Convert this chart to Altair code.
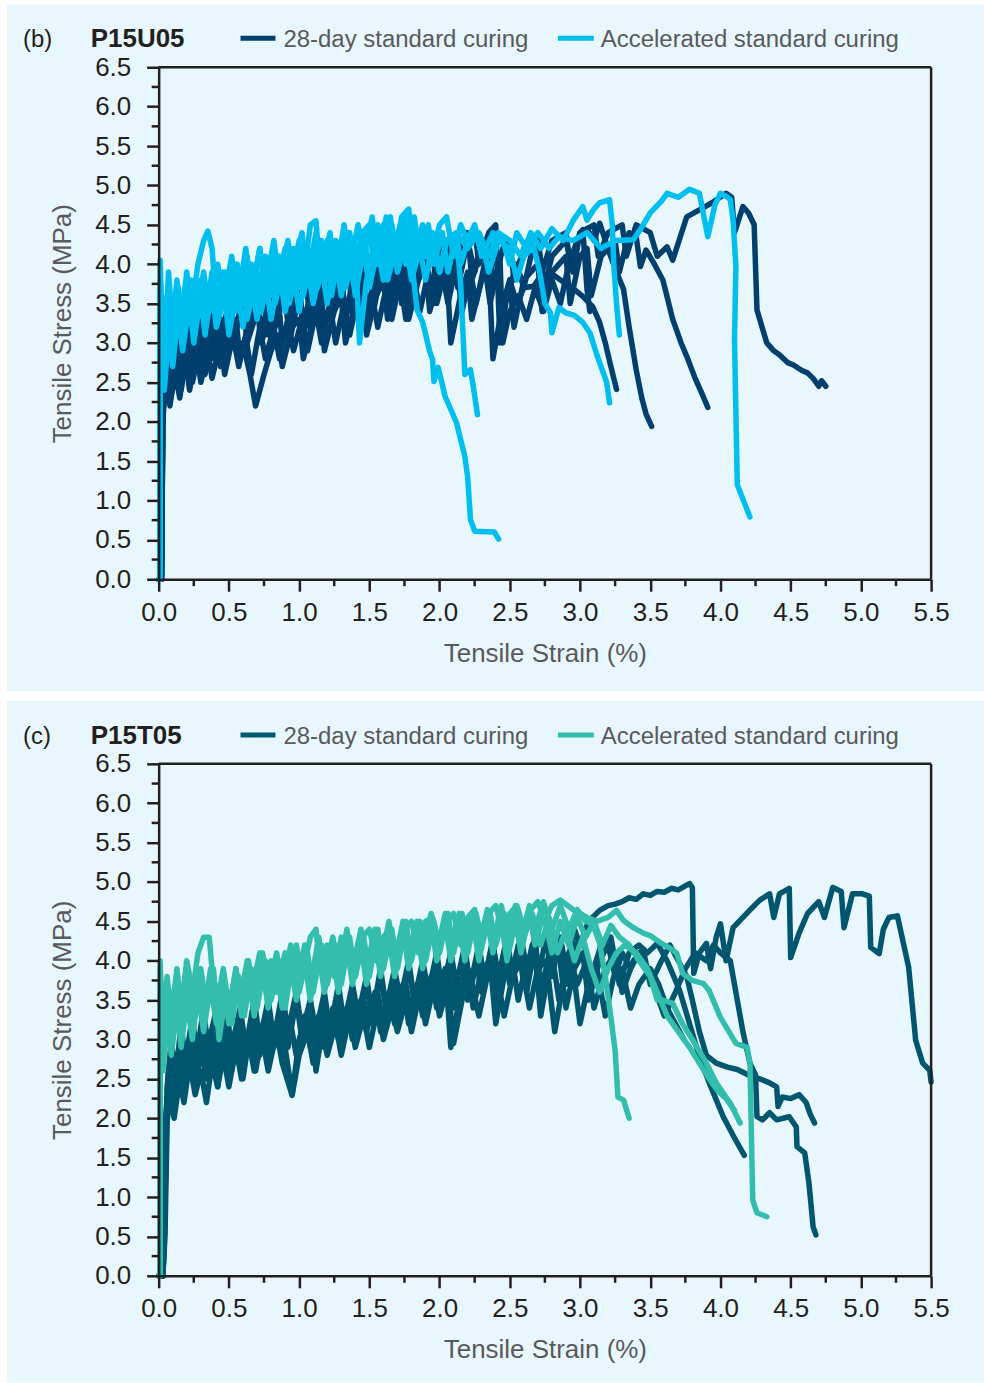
import altair as alt
import pandas as pd

# ---------------- data (strain %, stress MPa) ----------------
# Panel (b) P15U05 - 28-day standard curing
B28_1 = [(0,0),(0.02,0),(0.03,2.4),(0.06,2.9),(0.08,2.3),(0.12,2.8),(0.15,2.5),(0.2,3.0),(0.23,2.6),(0.28,3.1),(0.3,2.7),(0.36,3.2),(0.39,2.8),(0.45,3.3),(0.48,2.9),(0.55,3.3),(0.58,2.8),(0.65,3.3),(0.7,3.5),(0.73,3.0),(0.8,3.4),(0.85,3.6),(0.88,3.0),(0.95,3.5),(1.0,3.7),(1.03,3.1),(1.1,3.6),(1.15,3.8),(1.18,3.2),(1.25,3.7),(1.3,3.9),(1.33,3.3),(1.4,3.8),(1.45,4.0),(1.48,3.4),(1.55,3.9),(1.6,4.1),(1.63,3.5),(1.7,4.0),(1.75,4.1),(1.78,3.6),(1.85,4.1),(1.9,4.2),(1.93,3.6),(2.0,4.1),(2.05,4.3),(2.08,3.7),(2.15,4.2),(2.2,4.4),(2.23,3.8),(2.3,4.2),(2.35,4.3),(2.38,3.7),(2.45,4.2),(2.5,4.3),(2.53,3.8),(2.6,4.2),(2.7,4.35),(2.73,3.9),(2.8,4.3),(2.9,4.4),(2.93,4.0),(3.0,4.4),(3.1,4.5),(3.13,4.1),(3.2,4.4),(3.3,4.5),(3.33,4.1),(3.4,4.5),(3.5,4.4),(3.55,4.1),(3.62,4.22),(3.66,4.05),(3.76,4.6),(3.85,4.69),(3.94,4.78),(4.04,4.9),(4.08,4.85),(4.1,4.4),(4.16,4.73),(4.2,4.65),(4.24,4.5),(4.26,3.42),(4.33,3.0),(4.38,2.9),(4.42,2.85),(4.48,2.75),(4.52,2.72),(4.58,2.65),(4.62,2.62),(4.66,2.55),(4.7,2.45),(4.72,2.52),(4.75,2.45)]
B28_2 = [(0,0),(0.02,0),(0.03,2.0),(0.05,2.6),(0.08,2.2),(0.12,2.7),(0.16,2.4),(0.2,2.9),(0.24,2.5),(0.3,3.0),(0.33,2.6),(0.4,3.1),(0.44,2.7),(0.5,3.1),(0.55,2.9),(0.6,3.0),(0.65,2.6),(0.69,2.2),(0.75,2.6),(0.8,2.9),(0.85,3.1),(0.88,2.7),(0.95,3.2),(1.0,3.3),(1.03,2.8),(1.1,3.3),(1.15,3.5),(1.18,2.9),(1.25,3.4),(1.3,3.6),(1.33,3.0),(1.4,3.5),(1.45,3.7),(1.48,3.1),(1.55,3.6),(1.6,3.8),(1.63,3.3),(1.7,3.7),(1.75,3.9),(1.78,3.3),(1.85,3.8),(1.9,4.0),(1.93,3.4),(2.0,3.9),(2.05,4.0),(2.08,3.0),(2.15,3.6),(2.2,3.9),(2.23,3.3),(2.3,3.8),(2.35,4.0),(2.38,2.8),(2.45,3.5),(2.5,3.8),(2.53,3.2),(2.6,3.8),(2.7,4.0),(2.73,3.4),(2.8,3.9),(2.9,4.1),(2.93,3.5),(3.0,4.1),(3.05,4.2),(3.08,3.6),(3.15,4.1),(3.25,4.3),(3.28,3.9),(3.35,4.4),(3.4,4.35),(3.43,3.97),(3.47,4.18),(3.53,4.0),(3.59,3.8),(3.66,3.3),(3.72,3.0),(3.76,2.83),(3.82,2.55),(3.87,2.35),(3.91,2.18)]
B28_3 = [(0,0),(0.02,0),(0.03,2.3),(0.06,2.8),(0.09,2.4),(0.14,3.0),(0.17,2.6),(0.22,3.1),(0.25,2.7),(0.3,3.2),(0.34,2.8),(0.4,3.3),(0.43,2.8),(0.5,3.4),(0.53,3.0),(0.6,3.5),(0.63,3.0),(0.7,3.4),(0.75,3.6),(0.78,3.1),(0.85,3.5),(0.9,3.7),(0.93,3.0),(1.0,3.6),(1.05,3.8),(1.08,3.2),(1.15,3.7),(1.2,3.9),(1.23,3.3),(1.3,3.8),(1.35,4.0),(1.38,3.4),(1.45,3.9),(1.5,4.1),(1.53,3.6),(1.6,4.0),(1.65,4.2),(1.68,3.6),(1.75,4.1),(1.8,4.2),(1.83,3.8),(1.9,4.2),(1.95,4.3),(1.98,3.5),(2.05,4.0),(2.1,4.3),(2.13,3.7),(2.2,4.3),(2.25,4.45),(2.28,4.0),(2.35,4.4),(2.4,4.5),(2.43,3.0),(2.48,3.6),(2.55,4.0),(2.6,3.7),(2.65,4.1),(2.7,4.2),(2.73,3.6),(2.8,4.1),(2.9,4.3),(2.95,3.9),(3.0,4.4),(3.05,4.45),(3.1,4.3),(3.14,4.52),(3.21,4.14),(3.26,3.9),(3.31,3.68),(3.35,3.2),(3.4,2.66),(3.44,2.3),(3.47,2.1),(3.51,1.94)]
B28_4 = [(0,0),(0.02,0),(0.03,2.6),(0.06,3.1),(0.09,2.7),(0.13,3.2),(0.16,2.8),(0.21,3.3),(0.24,2.9),(0.3,3.4),(0.33,2.9),(0.4,3.5),(0.43,3.0),(0.5,3.5),(0.53,3.0),(0.6,3.6),(0.63,3.1),(0.7,3.6),(0.73,3.1),(0.8,3.7),(0.83,3.2),(0.9,3.7),(0.93,3.1),(1.0,3.8),(1.03,3.2),(1.1,3.8),(1.13,3.3),(1.2,3.9),(1.23,3.4),(1.3,3.9),(1.33,3.3),(1.4,4.0),(1.43,3.5),(1.5,4.0),(1.53,3.4),(1.6,4.1),(1.63,3.6),(1.7,4.1),(1.73,3.5),(1.8,4.2),(1.83,3.7),(1.9,4.1),(1.93,3.6),(2.0,4.2),(2.05,4.3),(2.08,3.8),(2.15,4.25),(2.2,4.3),(2.25,3.9),(2.3,4.3),(2.35,3.8),(2.4,4.2),(2.45,3.4),(2.5,3.8),(2.55,3.5),(2.6,3.7),(2.67,3.72),(2.72,3.85),(2.79,3.89),(2.86,3.8),(2.93,3.72),(3.02,3.59),(3.09,3.46),(3.14,3.26),(3.18,3.0),(3.22,2.7),(3.26,2.41)]
B28_5 = [(0,0),(0.02,0),(0.03,2.1),(0.05,2.5),(0.08,2.25),(0.12,2.6),(0.15,2.3),(0.19,2.8),(0.22,2.4),(0.27,2.9),(0.3,2.5),(0.35,2.9),(0.38,2.55),(0.44,3.0),(0.47,2.6),(0.53,3.1),(0.57,2.7),(0.62,3.1),(0.66,2.6),(0.72,3.2),(0.76,2.8),(0.82,3.2),(0.86,2.8),(0.92,3.3),(0.96,2.9),(1.02,3.3),(1.06,2.9),(1.12,3.4),(1.16,3.0),(1.22,3.5),(1.26,3.0),(1.32,3.5),(1.36,3.1),(1.42,3.6),(1.46,3.2),(1.52,3.6),(1.56,3.2),(1.62,3.7),(1.66,3.3),(1.72,3.8),(1.76,3.3),(1.82,3.8),(1.86,3.4),(1.92,3.9),(1.96,3.5),(2.02,3.9),(2.06,3.5),(2.12,4.0),(2.16,3.4),(2.22,3.9),(2.26,3.5),(2.32,4.0),(2.36,3.5),(2.43,4.1),(2.45,3.0),(2.5,3.4),(2.56,3.6),(2.62,3.3),(2.68,3.7),(2.74,3.4),(2.8,3.8),(2.86,3.5),(2.92,4.0),(2.98,4.3),(3.02,4.44),(3.05,3.68),(3.07,3.4)]

# Panel (b) P15U05 - Accelerated standard curing
BAC_1 = [(0,0),(0.01,0),(0.01,4.05),(0.03,3.0),(0.06,3.6),(0.09,3.1),(0.13,3.8),(0.16,3.3),(0.2,3.9),(0.23,3.4),(0.28,4.0),(0.32,4.3),(0.35,4.42),(0.38,4.2),(0.41,3.5),(0.46,3.9),(0.5,3.6),(0.55,4.0),(0.58,3.5),(0.63,4.1),(0.66,3.6),(0.72,4.2),(0.75,3.7),(0.8,4.1),(0.83,3.6),(0.9,4.2),(0.93,3.7),(1.0,4.3),(1.03,3.8),(1.08,4.5),(1.12,4.55),(1.15,3.9),(1.2,4.3),(1.25,3.8),(1.3,4.3),(1.35,4.4),(1.38,3.9),(1.45,4.4),(1.5,4.5),(1.53,4.0),(1.6,4.5),(1.65,4.6),(1.68,4.1),(1.73,4.6),(1.78,4.7),(1.82,4.1),(1.88,4.5),(1.93,4.0),(2.0,4.5),(2.05,4.6),(2.1,4.1),(2.15,4.5),(2.2,4.3),(2.25,4.5),(2.3,4.1),(2.38,4.4),(2.45,4.3),(2.5,4.0),(2.55,4.4),(2.62,4.2),(2.7,4.4),(2.78,4.2),(2.85,4.35),(2.95,4.3),(3.05,4.4),(3.15,4.2),(3.25,4.3),(3.38,4.31),(3.43,4.44),(3.5,4.65),(3.58,4.8),(3.62,4.9),(3.7,4.85),(3.78,4.95),(3.85,4.9),(3.91,4.35),(3.96,4.75),(4.0,4.9),(4.05,4.85),(4.07,4.82),(4.09,4.56),(4.11,3.97),(4.1,3.04),(4.12,1.2),(4.21,0.79)]
BAC_2 = [(0,0),(0.01,0),(0.01,3.4),(0.04,2.6),(0.07,3.3),(0.1,2.8),(0.14,3.5),(0.17,3.0),(0.22,3.6),(0.25,3.1),(0.3,3.7),(0.33,3.2),(0.38,3.8),(0.42,3.3),(0.48,3.8),(0.52,4.0),(0.55,3.4),(0.6,3.9),(0.63,3.3),(0.7,3.9),(0.73,3.4),(0.8,4.0),(0.83,3.5),(0.9,4.1),(0.93,3.5),(1.0,4.1),(1.03,3.6),(1.1,4.2),(1.13,3.7),(1.2,4.2),(1.23,3.6),(1.3,4.3),(1.33,3.7),(1.4,4.2),(1.43,3.0),(1.48,3.8),(1.55,4.3),(1.6,4.4),(1.63,3.8),(1.7,4.3),(1.75,4.4),(1.8,3.9),(1.85,4.3),(1.9,4.1),(1.95,4.4),(2.0,3.9),(2.05,4.3),(2.12,4.4),(2.15,4.0),(2.22,4.4),(2.3,4.3),(2.35,3.9),(2.42,4.3),(2.5,4.2),(2.55,3.8),(2.6,4.1),(2.67,4.22),(2.71,3.93),(2.75,3.5),(2.79,3.38),(2.8,3.13),(2.85,3.45),(2.9,3.38),(2.96,3.35),(3.02,3.26),(3.07,3.13),(3.12,2.85),(3.19,2.5),(3.21,2.24)]
BAC_3 = [(0,0),(0.01,0),(0.01,3.8),(0.04,2.8),(0.07,3.9),(0.1,3.2),(0.14,3.7),(0.18,3.1),(0.23,3.8),(0.27,3.3),(0.32,3.9),(0.36,3.4),(0.42,4.0),(0.46,3.5),(0.52,4.1),(0.56,3.5),(0.62,4.2),(0.66,3.6),(0.72,4.2),(0.76,3.7),(0.82,4.3),(0.86,3.8),(0.92,4.3),(0.96,3.9),(1.02,4.4),(1.06,3.8),(1.12,4.4),(1.16,3.9),(1.22,4.4),(1.26,3.8),(1.32,4.5),(1.36,4.0),(1.42,4.5),(1.46,4.1),(1.52,4.6),(1.56,4.0),(1.62,4.6),(1.66,4.1),(1.72,4.5),(1.76,4.0),(1.82,4.6),(1.86,4.1),(1.92,4.5),(1.96,4.0),(2.02,4.4),(2.06,3.9),(2.12,4.4),(2.2,4.2),(2.28,4.4),(2.35,4.1),(2.42,4.4),(2.5,4.3),(2.58,4.1),(2.65,4.4),(2.72,4.2),(2.8,4.45),(2.88,4.3),(2.95,4.55),(3.02,4.73),(3.05,4.56),(3.1,4.7),(3.14,4.78),(3.18,4.8),(3.21,4.82),(3.23,4.5),(3.24,4.0),(3.26,3.5),(3.28,3.1)]
BAC_4 = [(0,0),(0.01,0),(0.01,3.2),(0.04,2.4),(0.07,3.1),(0.1,2.7),(0.14,3.4),(0.17,2.9),(0.22,3.5),(0.25,3.0),(0.3,3.6),(0.33,3.1),(0.38,3.7),(0.41,3.2),(0.47,3.6),(0.5,3.1),(0.56,3.7),(0.6,3.2),(0.66,3.8),(0.7,3.3),(0.76,3.8),(0.8,3.3),(0.86,3.9),(0.9,3.4),(0.96,3.9),(1.0,3.4),(1.06,4.0),(1.1,3.5),(1.16,4.0),(1.2,3.5),(1.26,4.1),(1.3,3.6),(1.36,4.1),(1.4,3.6),(1.46,4.2),(1.5,3.7),(1.56,4.2),(1.6,3.8),(1.66,4.3),(1.7,3.9),(1.76,4.3),(1.8,3.8),(1.86,4.2),(1.9,3.8),(1.96,4.3),(2.0,3.9),(2.05,4.3),(2.1,4.35),(2.12,4.35),(2.15,3.76),(2.17,3.0),(2.18,2.6),(2.22,2.66),(2.24,2.45),(2.27,2.09)]
BAC_5 = [(0,0),(0.01,0),(0.01,3.6),(0.04,2.5),(0.07,3.4),(0.1,2.9),(0.14,3.6),(0.17,3.1),(0.22,3.7),(0.25,3.2),(0.3,3.8),(0.33,3.3),(0.38,3.9),(0.41,3.3),(0.47,3.9),(0.5,3.4),(0.56,4.0),(0.6,3.5),(0.66,4.0),(0.7,3.5),(0.76,4.1),(0.8,3.6),(0.86,4.1),(0.9,3.6),(0.96,4.2),(1.0,3.7),(1.06,4.2),(1.1,3.7),(1.16,4.3),(1.2,3.8),(1.26,4.3),(1.3,3.8),(1.36,4.4),(1.4,3.9),(1.46,4.4),(1.5,3.9),(1.56,4.5),(1.6,4.0),(1.66,4.5),(1.7,4.1),(1.75,4.6),(1.79,4.02),(1.81,3.89),(1.84,3.42),(1.88,3.26),(1.93,2.89),(1.95,2.79),(1.96,2.51),(1.99,2.69),(2.04,2.32),(2.12,1.99),(2.18,1.56),(2.2,1.3),(2.22,0.76),(2.25,0.61),(2.39,0.6),(2.42,0.51)]

# Panel (c) P15T05 - 28-day standard curing
C28_1 = [(0,0),(0.03,0),(0.035,0.5),(0.05,2.0),(0.07,2.6),(0.1,2.3),(0.14,2.8),(0.17,2.4),(0.22,2.9),(0.25,2.5),(0.3,3.0),(0.33,2.6),(0.38,3.0),(0.41,2.6),(0.47,3.1),(0.5,2.7),(0.56,3.1),(0.6,2.7),(0.66,3.2),(0.7,2.8),(0.76,3.2),(0.8,2.8),(0.86,3.3),(0.9,2.9),(0.95,2.3),(1.0,3.0),(1.06,3.3),(1.1,2.9),(1.16,3.4),(1.2,3.0),(1.26,3.4),(1.3,3.0),(1.36,3.5),(1.4,3.1),(1.46,3.5),(1.5,3.2),(1.56,3.6),(1.6,3.2),(1.66,3.7),(1.7,3.3),(1.76,3.7),(1.8,3.3),(1.86,3.8),(1.9,3.4),(1.96,3.9),(2.0,3.5),(2.06,3.9),(2.1,3.4),(2.16,4.0),(2.2,3.5),(2.26,4.0),(2.3,3.6),(2.36,4.1),(2.4,3.6),(2.46,4.1),(2.5,3.7),(2.56,4.2),(2.6,3.7),(2.66,4.2),(2.7,3.8),(2.76,4.3),(2.8,3.8),(2.86,4.3),(2.9,3.9),(2.96,4.4),(3.0,4.2),(3.06,4.5),(3.14,4.64),(3.2,4.7),(3.25,4.72),(3.3,4.75),(3.35,4.8),(3.4,4.78),(3.45,4.85),(3.5,4.83),(3.55,4.88),(3.6,4.87),(3.65,4.92),(3.7,4.9),(3.75,4.95),(3.78,4.98),(3.8,4.93),(3.81,3.84),(3.85,4.1),(3.9,4.22),(3.93,3.9),(3.97,4.3),(4.0,4.47),(4.04,4.0),(4.09,4.42),(4.16,4.55),(4.23,4.68),(4.28,4.77),(4.35,4.85),(4.38,4.55),(4.42,4.85),(4.49,4.92),(4.5,4.04),(4.56,4.35),(4.62,4.6),(4.7,4.75),(4.74,4.55),(4.8,4.93),(4.86,4.88),(4.88,4.42),(4.94,4.85),(5.01,4.85),(5.06,4.82),(5.07,4.17),(5.13,4.09),(5.16,4.4),(5.2,4.55),(5.26,4.57),(5.34,3.92),(5.39,2.99),(5.44,2.7),(5.49,2.61),(5.5,2.46)]
C28_2 = [(0,0),(0.03,0),(0.04,0.5),(0.06,2.2),(0.09,2.8),(0.12,2.4),(0.16,3.0),(0.19,2.5),(0.24,3.1),(0.27,2.6),(0.32,3.1),(0.35,2.6),(0.4,3.2),(0.43,2.7),(0.48,3.2),(0.52,2.6),(0.58,3.3),(0.62,2.8),(0.68,3.3),(0.72,2.8),(0.78,3.4),(0.82,2.9),(0.88,3.4),(0.92,2.9),(0.98,3.5),(1.02,3.0),(1.08,3.5),(1.12,3.1),(1.18,3.6),(1.22,3.1),(1.28,3.7),(1.32,3.2),(1.38,3.7),(1.42,3.3),(1.48,3.8),(1.52,3.3),(1.58,3.9),(1.62,3.4),(1.68,3.9),(1.72,3.5),(1.78,4.0),(1.82,3.5),(1.88,4.0),(1.92,3.6),(1.98,4.1),(2.02,3.6),(2.08,4.1),(2.12,3.7),(2.18,4.2),(2.22,3.6),(2.28,4.2),(2.32,3.7),(2.38,4.3),(2.42,3.5),(2.48,4.2),(2.52,3.8),(2.58,4.3),(2.62,3.6),(2.68,4.2),(2.72,3.7),(2.8,4.1),(2.85,3.5),(2.92,4.1),(2.98,3.7),(3.05,4.0),(3.1,3.4),(3.18,3.9),(3.25,4.1),(3.3,3.6),(3.38,4.0),(3.45,4.15),(3.5,3.7),(3.58,4.0),(3.64,4.2),(3.7,4.0),(3.76,3.8),(3.8,3.5),(3.85,3.1),(3.9,2.8),(3.97,2.7),(4.05,2.65),(4.12,2.62),(4.2,2.55),(4.28,2.5),(4.35,2.45),(4.4,2.4),(4.41,2.15),(4.44,2.27),(4.5,2.25),(4.56,2.3),(4.61,2.2),(4.64,2.05),(4.67,1.94)]
C28_3 = [(0,0),(0.03,0),(0.04,0.5),(0.05,2.0),(0.08,2.5),(0.11,2.2),(0.15,2.7),(0.18,2.3),(0.23,2.8),(0.26,2.4),(0.31,2.9),(0.34,2.5),(0.39,2.9),(0.42,2.4),(0.47,3.0),(0.5,2.6),(0.56,3.0),(0.6,2.5),(0.65,3.1),(0.69,2.6),(0.74,3.1),(0.78,2.7),(0.84,3.2),(0.88,2.8),(0.94,3.2),(0.98,2.8),(1.04,3.3),(1.08,2.9),(1.14,3.3),(1.18,2.9),(1.24,3.4),(1.28,3.0),(1.34,3.4),(1.38,3.0),(1.44,3.5),(1.48,3.1),(1.54,3.6),(1.58,3.1),(1.64,3.6),(1.68,3.2),(1.74,3.7),(1.78,3.2),(1.84,3.7),(1.88,3.3),(1.94,3.8),(1.98,3.4),(2.04,3.9),(2.08,2.9),(2.14,3.5),(2.2,3.9),(2.24,3.4),(2.3,3.9),(2.36,4.0),(2.4,3.2),(2.46,3.8),(2.52,4.0),(2.56,3.5),(2.62,4.0),(2.68,4.1),(2.72,3.3),(2.78,3.9),(2.85,4.1),(2.9,3.4),(2.96,3.9),(3.02,4.1),(3.06,3.5),(3.14,4.0),(3.2,4.2),(3.25,3.8),(3.3,4.1),(3.36,3.9),(3.42,4.1),(3.5,3.8),(3.56,3.5),(3.6,3.3),(3.68,3.6),(3.75,3.9),(3.82,4.1),(3.9,4.0),(3.95,4.2),(4.0,4.1),(4.07,4.0),(4.12,3.5),(4.16,3.1),(4.21,2.7),(4.25,2.55),(4.26,2.02),(4.3,1.98),(4.35,2.07),(4.4,1.98),(4.49,2.02),(4.54,1.89),(4.545,1.64),(4.6,1.56),(4.63,1.18),(4.66,0.62),(4.68,0.52)]
C28_4 = [(0,0),(0.03,0),(0.04,0.5),(0.06,2.4),(0.09,3.0),(0.12,2.5),(0.16,3.2),(0.19,2.7),(0.24,3.3),(0.27,2.8),(0.32,3.4),(0.35,2.9),(0.4,3.3),(0.43,2.8),(0.48,3.4),(0.52,2.9),(0.58,3.4),(0.62,2.9),(0.68,3.5),(0.72,3.0),(0.78,3.5),(0.82,3.0),(0.88,3.6),(0.92,3.1),(0.98,3.6),(1.02,3.1),(1.08,3.5),(1.12,2.6),(1.18,3.3),(1.22,3.0),(1.28,3.5),(1.32,3.1),(1.38,3.6),(1.42,3.2),(1.48,3.7),(1.52,3.3),(1.58,3.8),(1.62,3.4),(1.68,3.8),(1.72,3.4),(1.78,3.9),(1.82,3.5),(1.88,3.9),(1.92,3.5),(1.98,4.0),(2.02,3.6),(2.08,4.1),(2.12,3.6),(2.18,4.1),(2.22,3.7),(2.28,4.2),(2.32,3.7),(2.38,4.2),(2.42,3.8),(2.48,4.3),(2.52,3.8),(2.58,4.3),(2.62,3.9),(2.68,4.3),(2.72,3.5),(2.78,4.1),(2.85,4.3),(2.9,3.7),(2.96,4.2),(3.02,4.3),(3.08,3.8),(3.15,4.2),(3.22,4.3),(3.28,3.7),(3.35,4.1),(3.42,4.2),(3.48,4.1),(3.55,4.22),(3.62,4.0),(3.71,3.62),(3.78,3.2),(3.85,2.78),(3.92,2.45),(4.02,2.02),(4.1,1.75),(4.17,1.53)]
C28_5 = [(0,0),(0.03,0),(0.045,0.5),(0.06,1.95),(0.08,2.3),(0.11,2.0),(0.15,2.5),(0.18,2.2),(0.22,2.7),(0.26,2.3),(0.3,2.6),(0.34,2.2),(0.38,2.7),(0.42,2.4),(0.46,2.8),(0.5,2.4),(0.55,2.9),(0.59,2.5),(0.64,3.0),(0.68,2.6),(0.74,3.0),(0.78,2.6),(0.84,3.1),(0.88,2.7),(0.95,2.29),(1.0,2.8),(1.06,3.1),(1.1,2.7),(1.16,3.2),(1.2,2.8),(1.26,3.2),(1.3,2.8),(1.36,3.3),(1.4,2.9),(1.46,3.3),(1.5,2.9),(1.56,3.4),(1.6,3.0),(1.66,3.4),(1.7,3.1),(1.76,3.5),(1.8,3.1),(1.86,3.6),(1.9,3.2),(1.96,3.7),(2.0,3.3),(2.06,3.7),(2.1,2.95),(2.16,3.5),(2.22,3.8),(2.28,3.3),(2.34,3.8),(2.4,3.9),(2.46,3.3),(2.52,3.8),(2.58,4.0),(2.64,3.4),(2.7,3.9),(2.76,4.0),(2.82,3.1),(2.88,3.7),(2.95,3.9),(3.0,3.2),(3.06,3.7),(3.12,3.9),(3.18,3.3),(3.24,3.8),(3.3,3.9),(3.36,3.4),(3.42,3.7),(3.5,3.9),(3.56,3.7),(3.62,3.4),(3.68,3.2),(3.74,3.0)]

# Panel (c) P15T05 - Accelerated standard curing
CAC_1 = [(0,0),(0.01,0),(0.01,4.0),(0.03,3.1),(0.06,3.8),(0.09,3.3),(0.13,3.9),(0.16,3.4),(0.2,4.0),(0.24,3.6),(0.28,4.1),(0.32,4.3),(0.36,4.3),(0.38,3.9),(0.42,3.5),(0.46,3.9),(0.5,3.4),(0.55,3.9),(0.58,3.5),(0.63,4.0),(0.66,3.6),(0.72,4.1),(0.75,3.7),(0.8,4.0),(0.84,3.6),(0.9,4.1),(0.93,3.7),(0.98,4.2),(1.02,3.8),(1.08,4.3),(1.12,4.4),(1.15,3.9),(1.2,4.2),(1.25,3.8),(1.3,4.3),(1.35,4.1),(1.4,3.8),(1.45,4.3),(1.5,4.4),(1.55,4.0),(1.6,4.3),(1.65,4.4),(1.7,4.0),(1.75,4.4),(1.8,4.5),(1.85,4.1),(1.9,4.5),(1.95,4.55),(2.0,4.2),(2.05,4.5),(2.1,4.6),(2.15,4.2),(2.2,4.55),(2.25,4.65),(2.3,4.3),(2.35,4.6),(2.4,4.7),(2.45,4.35),(2.5,4.6),(2.55,4.7),(2.6,4.4),(2.65,4.65),(2.7,4.75),(2.75,4.5),(2.8,4.7),(2.86,4.77),(2.95,4.65),(3.0,4.6),(3.05,4.55),(3.12,4.5),(3.2,4.55),(3.26,4.64),(3.31,4.51),(3.38,4.42),(3.45,4.35),(3.5,4.32),(3.58,4.22),(3.65,4.15),(3.69,4.09),(3.73,3.84),(3.8,3.75),(3.88,3.71),(3.92,3.62),(3.96,3.45),(4.0,3.28),(4.06,3.1),(4.11,2.95),(4.19,2.9),(4.21,2.7),(4.23,0.96),(4.26,0.8),(4.33,0.75)]
CAC_2 = [(0,0),(0.01,0),(0.01,3.6),(0.03,2.9),(0.06,3.5),(0.09,3.0),(0.13,3.6),(0.16,3.1),(0.2,3.7),(0.24,3.2),(0.28,3.8),(0.32,3.3),(0.37,3.9),(0.41,3.3),(0.46,3.8),(0.5,3.3),(0.55,3.9),(0.59,3.4),(0.64,4.0),(0.68,3.5),(0.74,4.1),(0.78,3.6),(0.84,4.1),(0.88,3.6),(0.94,4.2),(0.98,3.7),(1.04,4.2),(1.08,3.7),(1.14,4.3),(1.18,3.8),(1.24,4.3),(1.28,3.8),(1.34,4.4),(1.38,3.9),(1.44,4.4),(1.48,3.9),(1.54,4.4),(1.58,4.0),(1.64,4.5),(1.68,4.0),(1.74,4.5),(1.78,4.1),(1.84,4.5),(1.88,4.1),(1.94,4.6),(1.98,4.1),(2.04,4.6),(2.08,4.2),(2.14,4.6),(2.18,4.1),(2.24,4.6),(2.28,4.2),(2.34,4.65),(2.38,4.2),(2.44,4.7),(2.48,4.3),(2.54,4.7),(2.58,4.3),(2.64,4.7),(2.68,4.4),(2.74,4.75),(2.8,4.4),(2.86,4.7),(2.92,4.4),(2.98,4.65),(3.04,4.5),(3.09,4.47),(3.14,4.22),(3.18,3.8),(3.22,3.28),(3.25,2.86),(3.27,2.27),(3.31,2.23),(3.35,2.0)]
CAC_3 = [(0,0),(0.01,0),(0.01,3.3),(0.03,2.6),(0.06,3.3),(0.09,2.8),(0.13,3.4),(0.16,2.9),(0.2,3.5),(0.24,3.0),(0.28,3.6),(0.32,3.1),(0.37,3.7),(0.41,3.2),(0.46,3.7),(0.5,3.2),(0.55,3.8),(0.59,3.3),(0.64,3.8),(0.68,3.3),(0.74,3.9),(0.78,3.4),(0.84,3.9),(0.88,3.4),(0.94,4.0),(0.98,3.5),(1.04,4.0),(1.08,3.5),(1.14,4.1),(1.18,3.6),(1.24,4.1),(1.28,3.6),(1.34,4.2),(1.38,3.7),(1.44,4.2),(1.48,3.7),(1.54,4.3),(1.58,3.8),(1.64,4.3),(1.68,3.8),(1.74,4.4),(1.78,3.9),(1.84,4.4),(1.88,3.9),(1.94,4.5),(1.98,4.0),(2.04,4.5),(2.08,4.0),(2.14,4.5),(2.18,4.0),(2.24,4.5),(2.28,4.0),(2.34,4.5),(2.38,4.1),(2.44,4.5),(2.48,4.0),(2.54,4.5),(2.58,4.1),(2.64,4.6),(2.68,4.2),(2.74,4.6),(2.8,4.1),(2.86,4.5),(2.92,4.2),(2.98,4.55),(3.04,4.3),(3.1,4.5),(3.16,4.2),(3.22,4.45),(3.28,4.3),(3.35,4.2),(3.42,4.0),(3.5,3.8),(3.55,3.5),(3.59,3.5),(3.66,3.46),(3.73,3.2),(3.8,3.0),(3.9,2.7),(3.97,2.45),(4.07,2.19),(4.14,1.94)]
CAC_4 = [(0,0),(0.01,0),(0.01,3.9),(0.03,3.0),(0.06,3.7),(0.09,3.2),(0.13,3.8),(0.17,3.3),(0.21,3.9),(0.25,3.3),(0.3,3.9),(0.34,3.4),(0.39,3.9),(0.43,3.0),(0.48,3.6),(0.52,3.2),(0.57,3.8),(0.61,3.3),(0.66,3.9),(0.7,3.4),(0.76,4.0),(0.8,3.5),(0.86,4.0),(0.9,3.4),(0.96,4.1),(1.0,3.6),(1.06,4.1),(1.1,3.6),(1.16,4.2),(1.2,3.7),(1.26,4.2),(1.3,3.7),(1.36,4.3),(1.4,3.8),(1.46,4.3),(1.5,3.8),(1.56,4.4),(1.6,3.9),(1.66,4.4),(1.7,3.9),(1.76,4.5),(1.8,4.0),(1.86,4.5),(1.9,4.0),(1.96,4.5),(2.0,4.1),(2.06,4.6),(2.1,4.1),(2.16,4.6),(2.2,4.1),(2.26,4.6),(2.3,4.2),(2.36,4.6),(2.4,4.2),(2.46,4.6),(2.5,4.2),(2.56,4.65),(2.6,4.3),(2.66,4.6),(2.72,4.2),(2.78,4.55),(2.84,4.1),(2.9,4.4),(2.96,4.0),(3.02,4.3),(3.08,3.9),(3.14,3.6),(3.2,3.9),(3.26,4.1),(3.32,4.2),(3.4,4.1),(3.48,3.9),(3.55,3.6),(3.62,3.3),(3.7,3.1),(3.78,2.9),(3.85,2.7),(3.92,2.5),(3.98,2.35),(4.04,2.25),(4.1,2.1)]

X_TICKS = [0.0, 0.5, 1.0, 1.5, 2.0, 2.5, 3.0, 3.5, 4.0, 4.5, 5.0, 5.5]
X_MINOR = [0.25, 0.75, 1.25, 1.75, 2.25, 2.75, 3.25, 3.75, 4.25, 4.75, 5.25]
Y_TICKS = [0.0, 0.5, 1.0, 1.5, 2.0, 2.5, 3.0, 3.5, 4.0, 4.5, 5.0, 5.5, 6.0, 6.5]
Y_MINOR = [0.25, 0.75, 1.25, 1.75, 2.25, 2.75, 3.25, 3.75, 4.25, 4.75, 5.25, 5.75, 6.25]

LEGEND = ["28-day standard curing", "Accelerated standard curing"]

PANELS = [
    {"tag": "(b)", "name": "P15U05", "dark": [B28_1, B28_2, B28_3, B28_4, B28_5],
     "light": [BAC_1, BAC_2, BAC_3, BAC_4, BAC_5],
     "c_dark": "#003F6E", "c_light": "#00BFEF", "bottom": 625},
    {"tag": "(c)", "name": "P15T05", "dark": [C28_1, C28_2, C28_3, C28_4, C28_5],
     "light": [CAC_1, CAC_2, CAC_3, CAC_4],
     "c_dark": "#00566E", "c_light": "#33BDAD", "bottom": 620},
]

W, H = 774, 513
BG = "#E8F6FD"
INK = "#231F20"
GREY = "#595A5C"
FONT = "Liberation Sans"
LW = 5.5


def curves_df(curves, prefix):
    rows = []
    for k, c in enumerate(curves):
        for i, (xv, yv) in enumerate(c):
            rows.append({"curve": f"{prefix}{k}", "i": i, "x": xv, "y": yv})
    return pd.DataFrame(rows)


x_enc = alt.X("x:Q", scale=alt.Scale(domain=[0, 5.5], nice=False, zero=False),
              axis=alt.Axis(values=X_TICKS, format=".1f", title="Tensile Strain (%)",
                            tickSize=12, tickWidth=2.5, tickColor=INK,
                            domainColor=INK, domainWidth=2.5, grid=False, labelFlush=False,
                            labelFont=FONT, labelFontSize=26, labelColor=INK, labelPadding=8,
                            titleFont=FONT, titleFontSize=26, titleFontWeight="normal",
                            titleColor=GREY, titlePadding=15, zindex=2))
y_enc = alt.Y("y:Q", scale=alt.Scale(domain=[0, 6.5], nice=False),
              axis=alt.Axis(values=Y_TICKS, format=".1f", title="Tensile Stress (MPa)",
                            tickSize=12, tickWidth=2.5, tickColor=INK,
                            domainColor=INK, domainWidth=2.5, grid=False, labelFlush=False,
                            labelFont=FONT, labelFontSize=26, labelColor=INK, labelPadding=16,
                            titleFont=FONT, titleFontSize=26, titleFontWeight="normal",
                            titleColor=GREY, titlePadding=19, zindex=2))

one = pd.DataFrame({"k": [0]})


def panel(p):
    bg = alt.Chart(one).mark_rect(color=BG).encode(
        x=alt.value(-152), x2=alt.value(827), y=alt.value(-63), y2=alt.value(p["bottom"]))
    dark = alt.Chart(curves_df(p["dark"], "d")).mark_line(
        color=p["c_dark"], strokeWidth=LW, strokeJoin="round", strokeCap="round").encode(
        x=x_enc, y=y_enc, detail="curve:N", order="i:Q")
    light = alt.Chart(curves_df(p["light"], "l")).mark_line(
        color=p["c_light"], strokeWidth=LW, strokeJoin="round", strokeCap="round").encode(
        x=x_enc, y=y_enc, detail="curve:N", order="i:Q")
    xmin = alt.Chart(pd.DataFrame({"x": X_MINOR})).mark_rule(color=INK, strokeWidth=2.5).encode(
        x=x_enc, y=alt.value(H), y2=alt.value(H + 7))
    ymin = alt.Chart(pd.DataFrame({"y": Y_MINOR})).mark_rule(color=INK, strokeWidth=2.5).encode(
        y=y_enc, x=alt.value(-7), x2=alt.value(0))
    top = alt.Chart(one).mark_rule(color=INK, strokeWidth=2.5).encode(
        x=alt.value(0), x2=alt.value(W), y=alt.value(0))
    right = alt.Chart(one).mark_rule(color=INK, strokeWidth=2.5).encode(
        x=alt.value(W), y=alt.value(0), y2=alt.value(H))
    tag = alt.Chart(pd.DataFrame({"t": [p["tag"]]})).mark_text(
        align="left", baseline="alphabetic", font=FONT, fontSize=24, color=INK).encode(
        x=alt.value(-136), y=alt.value(-20), text="t:N")
    name = alt.Chart(pd.DataFrame({"t": [p["name"]]})).mark_text(
        align="left", baseline="alphabetic", font=FONT, fontSize=26, fontWeight="bold",
        color=INK).encode(x=alt.value(-68), y=alt.value(-20), text="t:N")
    leg_l1 = alt.Chart(one).mark_rule(color=p["c_dark"], strokeWidth=5).encode(
        x=alt.value(82), x2=alt.value(117), y=alt.value(-29))
    leg_t1 = alt.Chart(pd.DataFrame({"t": [LEGEND[0]]})).mark_text(
        align="left", baseline="alphabetic", font=FONT, fontSize=24, color=GREY).encode(
        x=alt.value(125), y=alt.value(-20), text="t:N")
    leg_l2 = alt.Chart(one).mark_rule(color=p["c_light"], strokeWidth=5).encode(
        x=alt.value(400), x2=alt.value(436), y=alt.value(-29))
    leg_t2 = alt.Chart(pd.DataFrame({"t": [LEGEND[1]]})).mark_text(
        align="left", baseline="alphabetic", font=FONT, fontSize=24, color=GREY).encode(
        x=alt.value(443), y=alt.value(-20), text="t:N")
    return alt.layer(bg, dark, light, xmin, ymin, top, right, tag, name,
                     leg_l1, leg_t1, leg_l2, leg_t2).properties(width=W, height=H)


chart = alt.vconcat(panel(PANELS[0]), panel(PANELS[1]), spacing=8).properties(
    padding={"left": 6, "top": 2, "right": 0, "bottom": 0}
).configure(background="white").configure_view(stroke="transparent")

chart.save("out.html", embed_options={"renderer": "svg", "actions": False})
